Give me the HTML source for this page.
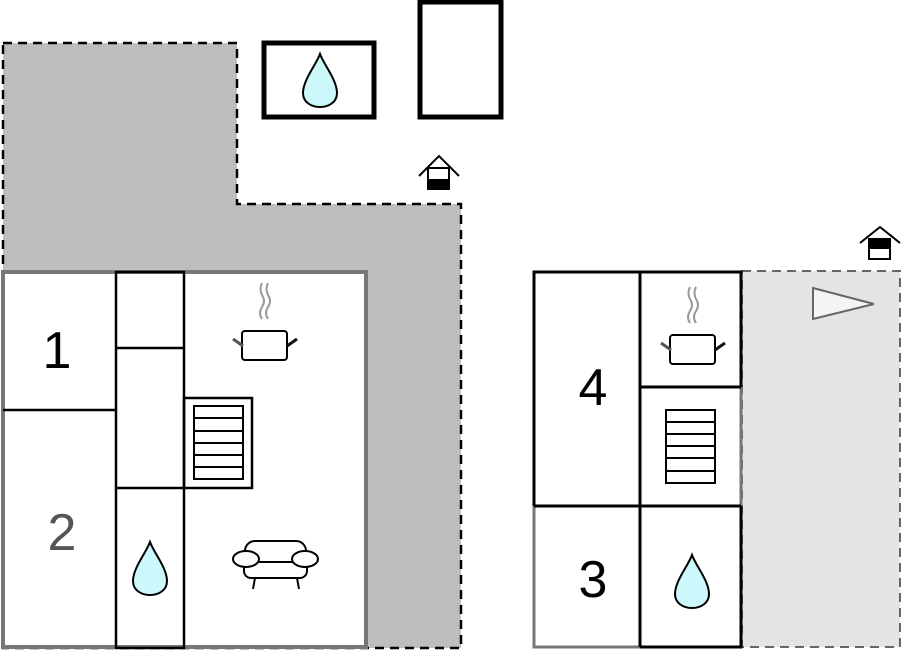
<!DOCTYPE html>
<html><head><style>html,body{margin:0;padding:0;background:#fff}svg{display:block}</style></head><body>
<svg width="903" height="652" viewBox="0 0 903 652" xmlns="http://www.w3.org/2000/svg" font-family="Liberation Sans, sans-serif">
<defs>
<g id="pot">
<path d="M0 -42 q-4 -6 0 -12 q4 -6 0 -12 q-3 -6 0 -12" fill="none" stroke="#999" stroke-width="2"/>
<path d="M6 -42 q-4 -6 0 -12 q4 -6 0 -12 q-3 -6 0 -12" fill="none" stroke="#999" stroke-width="2"/>
<rect x="-20" y="-30" width="45" height="29" rx="3" fill="#fff" stroke="#000" stroke-width="2"/>
<line x1="-29" y1="-22" x2="-19" y2="-15" stroke="#555" stroke-width="3"/>
<line x1="25" y1="-15" x2="35" y2="-22" stroke="#111" stroke-width="3"/>
</g>
<g id="drop"><path d="M0 -30 C-4 -19 -17 -4 -17 9 C-17 18 -9 23 0 23 C9 23 17 18 17 9 C17 -4 4 -19 0 -30Z" fill="#cdf8fb" stroke="#000" stroke-width="2"/></g>
</defs>
<path d="M3 43 H237 V204 H461 V648 H3 Z" fill="#bebebe" stroke="#000" stroke-width="2.5" stroke-dasharray="9,6"/>
<rect x="264" y="43" width="110" height="74" fill="#fff" stroke="#000" stroke-width="5"/>
<use href="#drop" x="320" y="84"/>
<rect x="420" y="2" width="81" height="115" fill="#fff" stroke="#000" stroke-width="5"/>
<g transform="translate(439,172)"><path d="M-20 4 L0 -16 L20 4" fill="none" stroke="#000" stroke-width="2"/><rect x="-11" y="-4" width="21" height="21" fill="#fff" stroke="#000" stroke-width="2"/><rect x="-11" y="7" width="21" height="10" fill="#000"/></g>
<rect x="3" y="272" width="363" height="375" fill="#fff" stroke="#777" stroke-width="4"/>
<g stroke="#000" stroke-width="2.5" fill="none">
<rect x="116" y="272" width="68" height="376"/>
<line x1="116" y1="348" x2="184" y2="348"/>
<line x1="116" y1="488" x2="184" y2="488"/>
<line x1="3" y1="410" x2="116" y2="410"/>
<rect x="184" y="398" width="68" height="90"/>
<rect x="194" y="406" width="49" height="73" stroke-width="2"/>
<path d="M194 418H243M194 431H243M194 443H243M194 455H243M194 467H243" stroke-width="2"/>
</g>
<text x="57" y="368" font-size="52" text-anchor="middle">1</text>
<text x="62" y="550" font-size="52" text-anchor="middle" fill="#555">2</text>
<use href="#pot" x="262" y="361"/>
<use href="#drop" x="150" y="572"/>
<g stroke="#000" stroke-width="2" fill="#fff">
<rect x="245" y="541" width="61" height="24" rx="10"/>
<rect x="244" y="562" width="63" height="16" rx="7"/>
<ellipse cx="246" cy="559" rx="13" ry="8"/><ellipse cx="305" cy="559" rx="13" ry="8"/>
<line x1="255" y1="578" x2="253" y2="589"/><line x1="297" y1="578" x2="299" y2="589"/>
</g>
<rect x="742" y="271" width="158" height="376" fill="#e4e4e4" stroke="#666" stroke-width="2" stroke-dasharray="9,6"/>
<path d="M813 288 L874 304 L813 319 Z" fill="#f4f4f4" stroke="#666" stroke-width="2"/>
<g transform="translate(880,247)"><path d="M-20 -4 L0 -20 L20 -4" fill="none" stroke="#000" stroke-width="2"/><rect x="-11" y="-8" width="21" height="20" fill="#fff" stroke="#000" stroke-width="2"/><rect x="-11" y="-8" width="21" height="10" fill="#000"/></g>
<rect x="534" y="272" width="207" height="375" fill="#fff" stroke="#777" stroke-width="3"/>
<g stroke="#000" stroke-width="3" fill="none">
<path d="M534 506 V272 H741 V387"/>
<path d="M534 506 H741 M640 272 V647 M640 387 H741 M741 506 V647 H640"/>
<rect x="666" y="410" width="49" height="73" stroke-width="2"/>
<path d="M666 422H715M666 434H715M666 446H715M666 458H715M666 471H715" stroke-width="2"/>
</g>
<text x="593" y="405" font-size="52" text-anchor="middle">4</text>
<text x="593" y="597" font-size="52" text-anchor="middle">3</text>
<use href="#pot" x="690" y="365"/>
<use href="#drop" x="692" y="585"/>
</svg>
</body></html>
